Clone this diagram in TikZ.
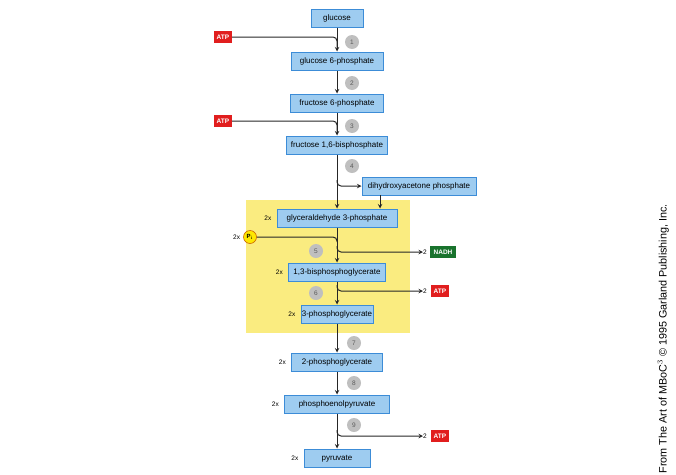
\documentclass[tikz,border=0pt]{standalone}
\usepackage{fontspec}
\setsansfont{Liberation Sans}
\usepackage{tikz}
\usetikzlibrary{positioning}
\definecolor{boxblue}{RGB}{158,204,240}
\definecolor{lineblue}{RGB}{60,140,215}
\definecolor{padyellow}{RGB}{250,236,128}
\definecolor{atpred}{RGB}{225,30,30}
\definecolor{nadhgreen}{RGB}{25,115,45}
\tikzset{met/.style={rectangle,draw=lineblue,fill=boxblue,line width=1pt,minimum height=18pt,inner sep=0pt,text height=5.5pt,text depth=1.5pt,font=\sffamily\fontsize{8}{9}\selectfont},
  stp/.style={circle,fill=black!25,minimum size=14pt,inner sep=0pt,text=black!65,font=\sffamily\fontsize{6.5}{7}\selectfont},
  atp/.style={fill=atpred,text=white,minimum width=18pt,minimum height=12pt,inner sep=0pt,font=\sffamily\bfseries\fontsize{6.5}{7}\selectfont},
  lab/.style={inner sep=0pt,font=\sffamily\fontsize{6.5}{7}\selectfont},
  flow/.style={line width=1pt,black!85}}

\begin{document}
\begin{tikzpicture}[x=1pt,y=-1pt,>=stealth]
    \useasboundingbox (0,0) rectangle (676,474);
    \fill[padyellow] (246,200) rectangle (410,333);

    \node[met,minimum width=52pt] (glc)at (337,18) {glucose};
    \node[met,minimum width=92pt] (g6p)at (337,61) {glucose 6-phosphate};
    \node[met,minimum width=93pt] (f6p)at (337,103) {fructose 6-phosphate};
    \node[met,minimum width=101pt] (fbp)at (337,145) {fructose 1,6-bisphosphate};
    \node[met,minimum width=114pt] (dhap)at (419,186) {dihydroxyacetone phosphate};
    \node[met,minimum width=120pt] (gap)at (337,218) {glyceraldehyde 3-phosphate};
    \node[met,minimum width=97pt] (bpg)at (337,272) {1,3-bisphosphoglycerate};
    \node[met,minimum width=72pt] (pg3)at (337,314) {3-phosphoglycerate};
    \node[met,minimum width=91pt] (pg2)at (337,362) {2-phosphoglycerate};
    \node[met,minimum width=105pt] (pep)at (337,404) {phosphoenolpyruvate};
    \node[met,minimum width=66pt] (pyr)at (337,458) {pyruvate};

    \node[lab,left=5pt of gap] {2x};
    \node[lab,left=5pt of bpg] {2x};
    \node[lab,left=5pt of pg3] {2x};
    \node[lab,left=5pt of pg2] {2x};
    \node[lab,left=5pt of pep] {2x};
    \node[lab,left=5pt of pyr] {2x};

    \node[stp] (s1)at (352,42) {1};
    \node[stp] (s2)at (352,83) {2};
    \node[stp] (s3)at (352,126) {3};
    \node[stp] (s4)at (352,166) {4};
    \node[stp] (s5)at (316,251) {5};
    \node[stp] (s6)at (316,293) {6};
    \node[stp] (s7)at (354,343) {7};
    \node[stp] (s8)at (354,383) {8};
    \node[stp] (s9)at (354,425) {9};

    \node[atp] (atpa)at (223,37) {ATP};
    \node[atp] (atpb)at (223,121) {ATP};
    \node[circle,fill=yellow!90!orange,draw=orange!80!black,line width=0.6pt,minimum size=13pt,inner sep=0pt,font=\sffamily\bfseries\fontsize{6}{7}\selectfont] (pi)at (250,237) {P$_{\mathrm{i}}$};
    \node[lab,left=3pt of pi] {2x};

    \node[lab] (n2)at (425,252) {2};
    \node[fill=nadhgreen,text=white,minimum width=26pt,minimum height=12pt,inner sep=0pt,font=\sffamily\bfseries\fontsize{6.5}{7}\selectfont] (nadh)at (443,252) {NADH};
    \node[lab] (a2)at (425,291) {2};
    \node[atp] (atpc)at (440,291) {ATP};
    \node[lab] (a3)at (425,436) {2};
    \node[atp] (atpd)at (440,436) {ATP};

    \coordinate (j1) at (337,48);
    \coordinate (j3) at (337,132);
    \coordinate (j4) at (337,180);
    \coordinate (j5) at (337,246);
    \coordinate (k5) at (337,242);
    \coordinate (j6) at (337,285);
    \coordinate (j9) at (337,430);
    \coordinate (d1) at (380,195);

    \draw [flow,->] (glc) to []node[]{} (g6p);
    \draw [flow,->] (g6p) to []node[]{} (f6p);
    \draw [flow,->] (f6p) to []node[]{} (fbp);
    \draw [flow,->] (fbp) to []node[]{} (gap);
    \draw [flow,->] (gap) to []node[]{} (bpg);
    \draw [flow,->] (bpg) to []node[]{} (pg3);
    \draw [flow,->] (pg3) to []node[]{} (pg2);
    \draw [flow,->] (pg2) to []node[]{} (pep);
    \draw [flow,->] (pep) to []node[]{} (pyr);

    \draw [flow,rounded corners=4pt] (atpa.east) -| (j1);
    \draw [flow,rounded corners=4pt] (atpb.east) -| (j3);
    \draw [flow,rounded corners=4pt] (pi.east) -| (k5);
    \draw [flow,->,rounded corners=4pt] (j4) |- (dhap.west);
    \draw [flow,->] (d1) -- (d1 |- gap.north);
    \draw [flow,->,rounded corners=4pt] (j5) |- (n2.west);
    \draw [flow,->,rounded corners=4pt] (j6) |- (a2.west);
    \draw [flow,->,rounded corners=4pt] (j9) |- (a3.west);

    \node[rotate=90,anchor=south east,inner sep=0pt,font=\sffamily\fontsize{10.8}{12}\selectfont] (cred)at (669,204) {From The Art of MBoC$^{3}$ \textcopyright\ 1995 Garland Publishing, Inc.};
\end{tikzpicture}
\end{document}
